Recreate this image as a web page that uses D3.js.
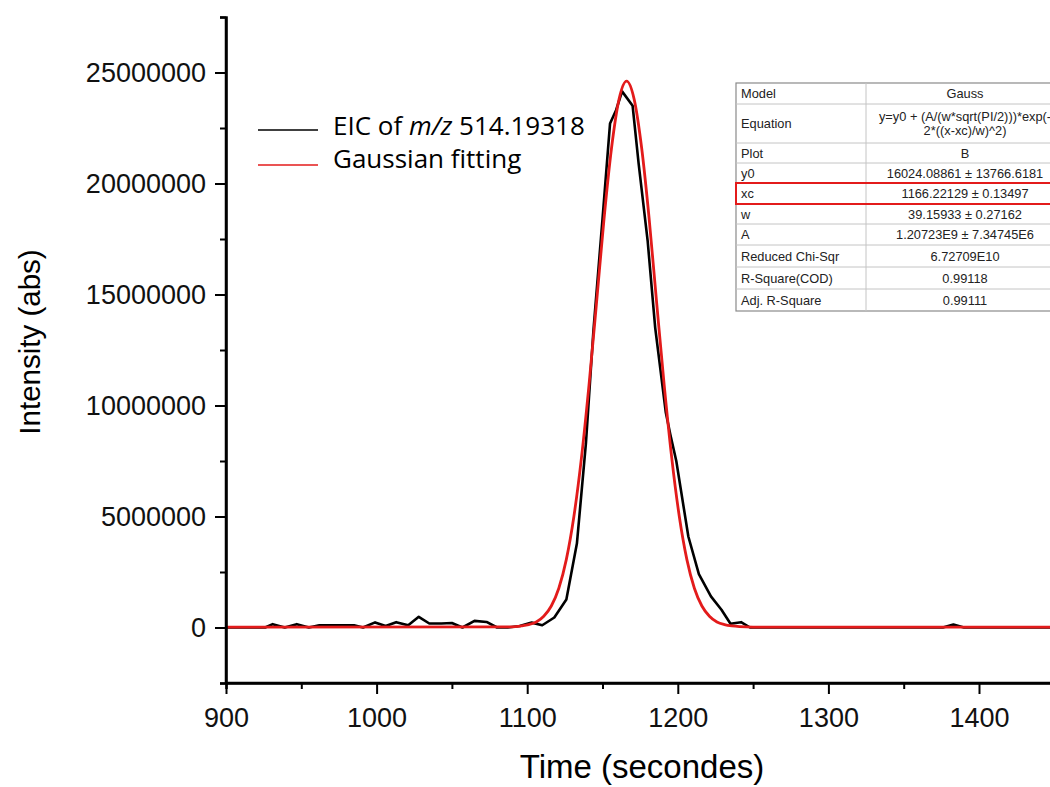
<!DOCTYPE html>
<html>
<head>
<meta charset="utf-8">
<script src="https://d3js.org/d3.v7.min.js"></script>
<title>EIC Gaussian fit</title>
<style>
  body { margin: 0; background: white; }
  svg { display: block; background: white; }
  .tick text { font-family: 'Liberation Sans', Arial, sans-serif; }
</style>
</head>
<body>
<div class="chart"></div>
<script>
// EIC trace (time in s, intensity)
const eicTime = [900, 926, 931, 939, 947, 955, 962, 970, 977, 985, 991, 999, 1006, 1013, 1021,
  1028, 1035, 1043, 1050, 1057, 1065, 1073, 1080, 1087, 1095, 1103, 1110, 1118, 1126, 1133,
  1139, 1144, 1150, 1155, 1159, 1163, 1170, 1174, 1180, 1185, 1192, 1195, 1199, 1207, 1214,
  1222, 1229, 1235, 1242, 1248, 1300, 1376, 1383, 1390, 1500];
const eicIntensity = [0, 0, 150000, 0, 150000, 0, 100000, 100000, 100000, 100000, 0, 230000,
  70000, 240000, 100000, 480000, 180000, 180000, 200000, 0, 300000, 250000, 0, 0, 70000,
  220000, 100000, 450000, 1260000, 3780000, 8300000, 13400000, 18400000, 22700000, 23300000,
  24150000, 23500000, 20900000, 17400000, 13500000, 9700000, 8700000, 7500000, 4100000,
  2400000, 1400000, 800000, 170000, 240000, 0, 0, 0, 130000, 0, 0];

// Gaussian fit curve
const fitTime = [900, 1090, 1096, 1101, 1106, 1111, 1116, 1121, 1126, 1131, 1136, 1141, 1146,
  1151, 1156, 1161, 1166, 1171, 1176, 1181, 1186, 1191, 1196, 1201, 1206, 1211, 1216, 1221,
  1226, 1231, 1236, 1241, 1250, 1500];
const fitIntensity = [20000, 30000, 70000, 130000, 250000, 510000, 970000, 1770000, 3070000,
  5000000, 7630000, 10900000, 14600000, 18400000, 21600000, 23800000, 24610000, 23800000,
  21600000, 18400000, 14600000, 10900000, 7630000, 5000000, 3070000, 1770000, 970000,
  510000, 250000, 130000, 70000, 40000, 20000, 20000];

const xMajor = [900, 1000, 1100, 1200, 1300, 1400];
const xMinor = [950, 1050, 1150, 1250, 1350, 1450];
const yMajor = [0, 5000000, 10000000, 15000000, 20000000, 25000000];
const yMinor = [-2500000, 2500000, 7500000, 12500000, 17500000, 22500000, 27500000];

const legendLabels = ["EIC of ", "Gaussian fitting"];

const tableLabels = ["Model", "Equation", "Plot", "y0", "xc", "w", "A",
  "Reduced Chi-Sqr", "R-Square(COD)", "Adj. R-Square"];
const tableValues = ["Gauss", "y=y0 + (A/(w*sqrt(PI/2)))*exp(-|2*((x-xc)/w)^2)", "B",
  "16024.08861 \u00b1 13766.6181", "1166.22129 \u00b1 0.13497", "39.15933 \u00b1 0.27162",
  "1.20723E9 \u00b1 7.34745E6", "6.72709E10", "0.99118", "0.99111"];

const w = 1050;
const h = 787;
const plotLeft = 226;
const plotBottom = 683;
const plotTop = 17;

const x = d3.scaleLinear().domain([900, 1500]).range([plotLeft, plotLeft + 600 * 1.506]);
const y = d3.scaleLinear().domain([-2500000, 27500000]).range([plotBottom, plotTop]);

const svg = d3.select(".chart")
  .append("svg")
  .attr("width", w)
  .attr("height", h);

// lines
const line = d3.line().x(d => x(d[0])).y(d => y(d[1]));

svg.append("path")
  .datum(eicTime.map((t, i) => [t, eicIntensity[i]]))
  .attr("fill", "none")
  .attr("stroke", "black")
  .attr("stroke-width", 2.6)
  .attr("stroke-linejoin", "round")
  .attr("d", line);

svg.append("path")
  .datum(fitTime.map((t, i) => [t, fitIntensity[i]]))
  .attr("fill", "none")
  .attr("stroke", "#e31b1b")
  .attr("stroke-width", 2.8)
  .attr("d", line.curve(d3.curveMonotoneX));

// y axis
const yAx = svg.append("g")
  .attr("transform", `translate(${plotLeft} 0)`)
  .call(d3.axisLeft(y).tickValues(yMajor).tickSize(11).tickPadding(9).tickFormat(d3.format("d")));
svg.append("g")
  .attr("transform", `translate(${plotLeft} 0)`)
  .call(d3.axisLeft(y).tickValues(yMinor).tickSize(6).tickFormat(""));

// x axis
const xAx = svg.append("g")
  .attr("transform", `translate(0 ${plotBottom})`)
  .call(d3.axisBottom(x).tickValues(xMajor).tickSize(11).tickPadding(14).tickFormat(d3.format("d")));
svg.append("g")
  .attr("transform", `translate(0 ${plotBottom})`)
  .call(d3.axisBottom(x).tickValues(xMinor).tickSize(6).tickFormat(""));

svg.selectAll(".domain").attr("stroke", "black").attr("stroke-width", 2.5);
svg.selectAll(".tick line").attr("stroke", "black").attr("stroke-width", 2);
svg.selectAll(".tick text").attr("font-size", 27).attr("fill", "#111");
yAx.select(".domain").attr("d", `M0,${plotBottom}V${plotTop}`);
xAx.select(".domain").attr("d", `M${plotLeft},0H${w}`);

// axis titles
svg.append("text")
  .attr("x", 642)
  .attr("y", 778)
  .attr("text-anchor", "middle")
  .attr("font-family", "'Liberation Sans', Arial, sans-serif")
  .attr("font-size", 33)
  .text("Time (secondes)");

svg.append("text")
  .attr("transform", "translate(40 342) rotate(-90)")
  .attr("text-anchor", "middle")
  .attr("font-family", "'Liberation Sans', Arial, sans-serif")
  .attr("font-size", 29.5)
  .text("Intensity (abs)");

// legend
const legend = svg.append("g")
  .attr("font-family", "'Open Sans', 'Noto Sans', sans-serif")
  .attr("font-size", 26);
legend.append("line").attr("x1", 258).attr("x2", 318).attr("y1", 130).attr("y2", 130)
  .attr("stroke", "black").attr("stroke-width", 1.6);
legend.append("line").attr("x1", 258).attr("x2", 318).attr("y1", 165).attr("y2", 165)
  .attr("stroke", "#e31b1b").attr("stroke-width", 1.6);
const t1 = legend.append("text").attr("x", 333).attr("y", 135).text(legendLabels[0]);
t1.append("tspan").attr("font-style", "italic").text("m/z");
t1.append("tspan").text(" 514.19318");
legend.append("text").attr("x", 333).attr("y", 168).text(legendLabels[1]);

// parameter table
const rowH = [21, 39, 20, 20, 21, 20, 21, 22, 22, 22];
const tX = 736, tY = 83, col1 = 130, col2 = 330;
const table = svg.append("g")
  .attr("font-family", "'Liberation Sans', Arial, sans-serif")
  .attr("font-size", 12.8)
  .attr("fill", "#222");
const totalH = d3.sum(rowH);
table.append("rect")
  .attr("x", tX).attr("y", tY).attr("width", col1 + col2).attr("height", totalH)
  .attr("fill", "white").attr("stroke", "#8a8a8a").attr("stroke-width", 1.2);
let yy = tY;
tableLabels.forEach((lab, i) => {
  if (i > 0) {
    table.append("line").attr("x1", tX).attr("x2", tX + col1 + col2)
      .attr("y1", yy).attr("y2", yy).attr("stroke", "#c4c4c4");
  }
  const mid = yy + rowH[i] / 2;
  table.append("text").attr("x", tX + 5).attr("y", mid).attr("dy", "0.36em").text(lab);
  const parts = tableValues[i].split("|");
  parts.forEach((p, j) => {
    table.append("text")
      .attr("x", 965)
      .attr("y", mid + (j - (parts.length - 1) / 2) * 14)
      .attr("dy", "0.36em")
      .attr("text-anchor", "middle")
      .text(p);
  });
  yy += rowH[i];
});
table.append("line").attr("x1", tX + col1).attr("x2", tX + col1)
  .attr("y1", tY).attr("y2", tY + totalH).attr("stroke", "#c4c4c4");

// highlight xc row
const xcTop = tY + d3.sum(rowH.slice(0, 4));
svg.append("rect")
  .attr("x", tX).attr("y", xcTop).attr("width", col1 + col2).attr("height", rowH[4])
  .attr("fill", "none").attr("stroke", "#e31b1b").attr("stroke-width", 2);
</script>
</body>
</html>
